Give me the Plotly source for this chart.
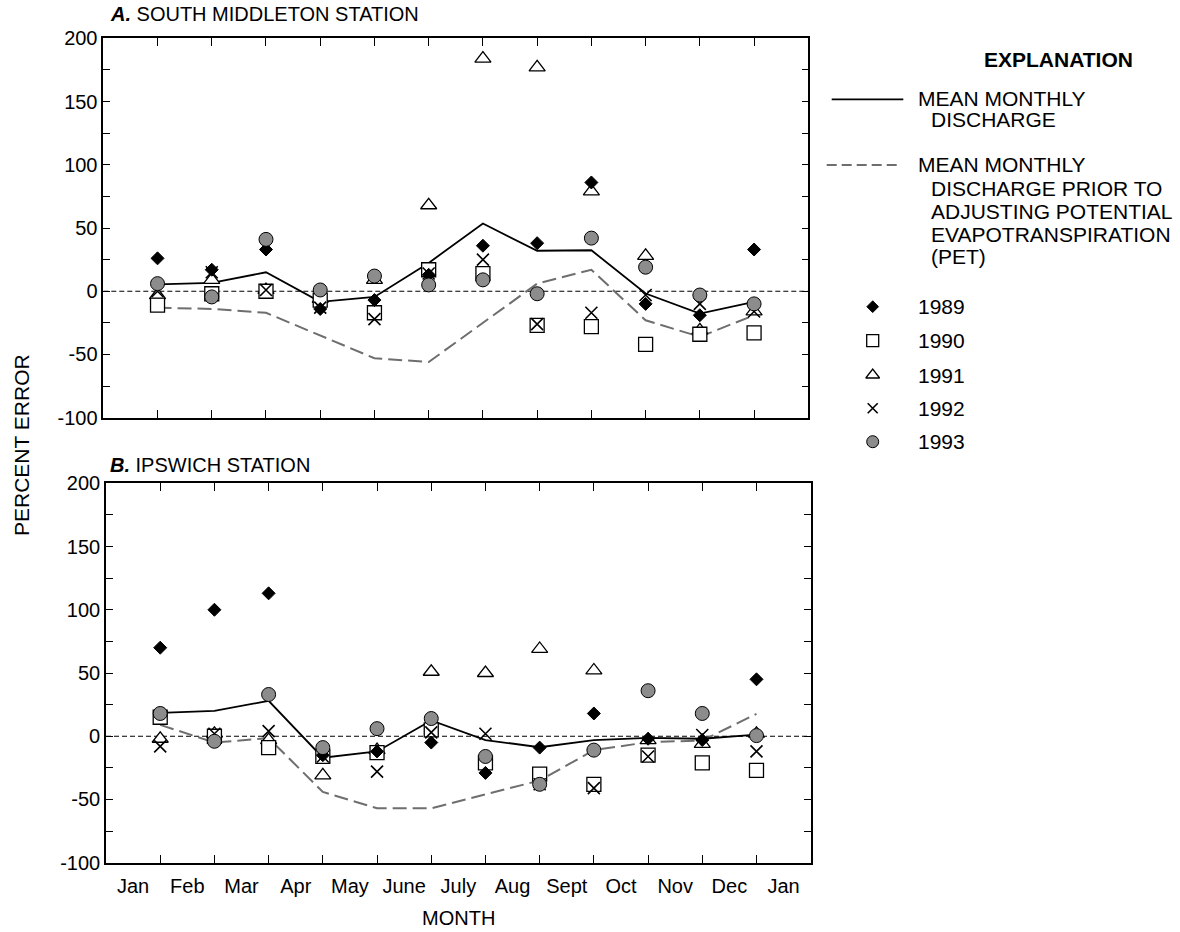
import plotly.graph_objects as go

W, H = 1180, 932

months = list(range(1, 13))
month_labels = ["Jan", "Feb", "Mar", "Apr", "May", "June", "July", "Aug", "Sept", "Oct", "Nov", "Dec", "Jan"]
years = ["1989", "1990", "1991", "1992", "1993"]
y_ticks = [-100, -50, 0, 50, 100, 150, 200]
y_tick_labels = ["-100", "-50", "0", "50", "100", "150", "200"]

# Panel A: South Middleton station (percent error)
a_1989 = [26, 17, 33, -14, -7, 13, 36, 38, 86, -10, -19, 33]
a_1990 = [-11, -2, 0, -7, -17, 17, 14, -27, -28, -42, -34, -33]
a_1991 = [-3, 9, 1, -6, 9, 68, 184, 177, 79, 28, -31, -16]
a_1992 = [0, 15, 1, -13, -22, 14, 25, -26, -17, -3, -10, -16]
a_1993 = [6, -4.5, 41, 1, 12, 5, 9, -2, 42, 19, -3, -10]
a_mean = [5.5, 6.6, 15, -8.4, -4.5, 22.4, 53.5, 32, 32.4, -1.8, -17.7, -8.4]
a_pet = [-13, -14, -17, -35, -53, -56, -25, 6, 17, -23, -36, -19]

# Panel B: Ipswich station (percent error)
b_1989 = [70, 100, 113, -15, -12, -5, -29, -9, 18, -2, -3, 45]
b_1990 = [15, 0, -9, -16, -13, 5, -21, -30, -38, -15, -21, -27]
b_1991 = [-2, 2, -3, -31, -11, 51, 50, 69, 52, -3, -6, 2]
b_1992 = [-8, 2, 4, -16, -28, 3, 2, -38, -41, -16, 1, -12]
b_1993 = [18, -4, 33, -9, 6, 14, -16, -38, -11, 36, 18, 0.5]
b_mean = [18.5, 20, 28, -17, -12, 12.5, -3, -8.7, -3, -1.3, -2, 1.3]
b_pet = [9, -5, -1.5, -44, -57, -57, -46, -35, -11, -4.7, -3.4, 17.7]

FONT = "Liberation Sans, Arial, Helvetica, sans-serif"

marker_styles = {
    "1989": dict(symbol="diamond", size=10, color="black", line=dict(color="black", width=1)),
    "1990": dict(symbol="square", size=14, color="white", line=dict(color="black", width=1.3)),
    "1991": dict(symbol="triangle-up", size=14, color="white", line=dict(color="black", width=1.3)),
    "1992": dict(symbol="x-thin", size=12, color="black", line=dict(color="black", width=1.6)),
    "1993": dict(symbol="circle", size=14, color="#8c8c8c", line=dict(color="black", width=1)),
}
legend_sizes = {"1989": 9, "1990": 12, "1991": 12, "1992": 10, "1993": 12}
draw_order = ["1991", "1990", "1992", "1989", "1993"]

panels = [
    dict(xa="x", ya="y", data={"1989": a_1989, "1990": a_1990, "1991": a_1991, "1992": a_1992, "1993": a_1993},
         mean=a_mean, pet=a_pet),
    dict(xa="x2", ya="y2", data={"1989": b_1989, "1990": b_1990, "1991": b_1991, "1992": b_1992, "1993": b_1993},
         mean=b_mean, pet=b_pet),
]

fig = go.Figure()
for p in panels:
    fig.add_trace(go.Scatter(x=months, y=p["pet"], mode="lines", xaxis=p["xa"], yaxis=p["ya"],
                             line=dict(color="#6e6e6e", width=2, dash="14px,6px"), showlegend=False))
    fig.add_trace(go.Scatter(x=months, y=p["mean"], mode="lines", xaxis=p["xa"], yaxis=p["ya"],
                             line=dict(color="black", width=1.8), showlegend=False))
    for yr in draw_order:
        fig.add_trace(go.Scatter(x=months, y=p["data"][yr], mode="markers", xaxis=p["xa"], yaxis=p["ya"],
                                 marker=marker_styles[yr], showlegend=False, name=yr))

# legend markers on an overlay pixel axis
leg_x = 872.7
leg_ys = [306.7, 340.7, 375, 408.3, 441.7]
for yr, ly in zip(years, leg_ys):
    st = dict(marker_styles[yr])
    st["size"] = legend_sizes[yr]
    fig.add_trace(go.Scatter(x=[leg_x], y=[ly], mode="markers", xaxis="x3", yaxis="y3",
                             marker=st, showlegend=False, hoverinfo="skip"))


def px(x):
    return x / W


def py(y):
    return 1 - y / H


common_x = dict(range=[0, 13], showline=True, linecolor="black", linewidth=1.6, mirror="ticks",
                tickvals=[k + 0.5 for k in range(13)], ticktext=month_labels,
                ticks="inside", ticklen=0, showgrid=False, zeroline=False, automargin=False,
                ticklabelstandoff=4,
                minor=dict(tickvals=months, ticks="inside", ticklen=8, tickwidth=1.2, tickcolor="black"),
                tickfont=dict(family=FONT, size=20, color="black"))
common_y = dict(range=[-100, 200], showline=True, linecolor="black", linewidth=1.6, mirror="ticks",
                tickvals=y_ticks, ticktext=y_tick_labels, ticks="inside", ticklen=7, tickwidth=1.2,
                tickcolor="black", showgrid=False, zeroline=False, automargin=False,
                minor=dict(dtick=25, ticks="inside", ticklen=7, tickwidth=1.2, tickcolor="black"),
                tickfont=dict(family=FONT, size=20, color="black"))

fig.update_layout(
    template="none",
    width=W, height=H, margin=dict(l=0, r=0, t=0, b=0, autoexpand=False),
    paper_bgcolor="white", plot_bgcolor="rgba(0,0,0,0)", showlegend=False,
    font=dict(family=FONT, size=20, color="black"),
    xaxis=dict(common_x, domain=[px(103.3), px(808.3)], anchor="y", showticklabels=False),
    yaxis=dict(common_y, domain=[py(417.7), py(38.3)], anchor="x"),
    xaxis2=dict(common_x, domain=[px(106), px(810.7)], anchor="y2"),
    yaxis2=dict(common_y, domain=[py(862.7), py(483.3)], anchor="x2"),
    xaxis3=dict(domain=[0, 1], range=[0, W], visible=False, anchor="y3", fixedrange=True, automargin=False),
    yaxis3=dict(domain=[0, 1], range=[H, 0], visible=False, anchor="x3", fixedrange=True, automargin=False),
)

shapes = []
for xr, yr in [("x", "y"), ("x2", "y2")]:
    shapes.append(dict(type="line", xref=xr, yref=yr, x0=0, x1=13, y0=0, y1=0,
                       line=dict(color="black", width=1.2, dash="5px,3px"), layer="below"))
# legend line samples
shapes.append(dict(type="line", xref="paper", yref="paper", x0=px(831.7), x1=px(903.3), y0=py(99.3), y1=py(99.3),
                   line=dict(color="black", width=1.8)))
shapes.append(dict(type="line", xref="paper", yref="paper", x0=px(826.7), x1=px(901.7), y0=py(165), y1=py(165),
                   line=dict(color="#6e6e6e", width=2, dash="10px,5px")))
fig.update_layout(shapes=shapes)

ann = []


def text(x, y, s, size=20, xanchor="left", bold=False, textangle=0):
    ann.append(dict(x=px(x), y=py(y), xref="paper", yref="paper", text=("<b>%s</b>" % s) if bold else s,
                    showarrow=False, xanchor=xanchor, yanchor="middle", textangle=textangle,
                    font=dict(family=FONT, size=size, color="black")))


text(108, 14, "<b><i>A.</i></b> SOUTH MIDDLETON STATION", size=20)
text(108, 465, "<b><i>B.</i></b> IPSWICH STATION", size=20)
text(22, 445, "PERCENT ERROR", size=21, xanchor="center", textangle=-90)
text(458, 918, "MONTH", size=20, xanchor="center")

text(1058, 60, "EXPLANATION", size=21, xanchor="center", bold=True)
text(916, 98.3, "MEAN MONTHLY", size=21)
text(928.7, 120, "DISCHARGE", size=21)
text(916, 165, "MEAN MONTHLY", size=21)
text(928.7, 188.3, "DISCHARGE PRIOR TO", size=21)
text(928.7, 211.7, "ADJUSTING POTENTIAL", size=21)
text(928.7, 234, "EVAPOTRANSPIRATION", size=21)
text(928.7, 256.7, "(PET)", size=21)
for yr, ly in zip(years, leg_ys):
    text(916, ly, yr, size=21)

fig.update_layout(annotations=ann)

fig.write_html("out.html")
